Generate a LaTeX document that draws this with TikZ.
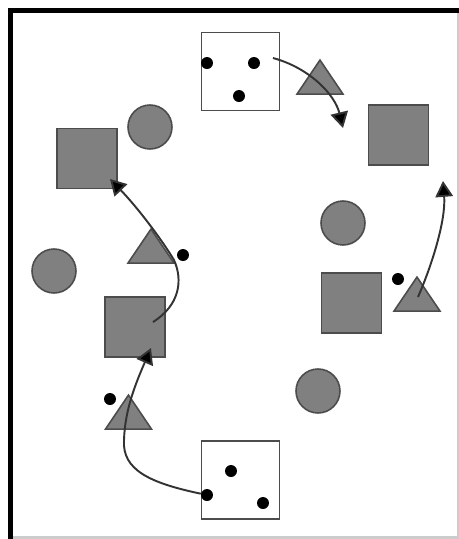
\documentclass[tikz,border=0pt]{standalone}
\usetikzlibrary{shapes.geometric,arrows.meta}
\definecolor{shade}{gray}{0.5}
\definecolor{rim}{gray}{0.3}

\begin{document}
\begin{tikzpicture}[x=0.02cm,y=-0.02cm,
    boxes/.style={draw=rim,line width=0.9pt,fill=white,minimum size=1.56cm,inner sep=0},
    greysq/.style={draw=rim,line width=0.9pt,fill=shade,minimum size=1.2cm,inner sep=0},
    greyball/.style={circle,draw=rim,line width=0.9pt,fill=shade,minimum size=0.88cm,inner sep=0},
    tri/.style={isosceles triangle,isosceles triangle stretches,shape border rotate=90,anchor=apex,
        draw=rim,line width=0.9pt,fill=shade,minimum width=0.92cm,minimum height=0.68cm,inner sep=0},
    dot/.style={circle,fill=black,minimum size=0.24cm,inner sep=0},
    arr/.style={line width=1.1pt,draw=black!80,-{Triangle[length=9pt,width=10pt,fill=black]}}]
        \useasboundingbox (0,0) rectangle (459,539);
        % frame
        \draw[black!20,line width=1.2pt] (12,537.5) -- (458,537.5) -- (458,12);
        \draw[black,line width=3pt] (10.5,539) -- (10.5,10.5) -- (459,10.5);
        % the two open boxes
        \node[boxes] (box1) at (240.5,71.5) {};
        \node[boxes] (box2) at (240.5,480) {};
        \node[dot] (b1d1) at (207,63) {};
        \node[dot] (b1d2) at (254,63) {};
        \node[dot] (b1d3) at (239,96) {};
        \node[dot] (b2d1) at (231,471) {};
        \node[dot] (b2d2) at (207,495) {};
        \node[dot] (b2d3) at (263,503) {};
        % squares
        \node[greysq] (sq1) at (398.5,135) {};
        \node[greysq] (sq2) at (87,158.5) {};
        \node[greysq] (sq3) at (135,327) {};
        \node[greysq] (sq4) at (351.5,303) {};
        % circles
        \node[greyball] (ball1) at (150,127) {};
        \node[greyball] (ball2) at (54,271) {};
        \node[greyball] (ball3) at (343,223) {};
        \node[greyball] (ball4) at (318,391) {};
        % triangles (placed by their apex) and their dots
        \node[tri] (tri1) at (320,58) {};
        \node[tri] (tri2) at (151,227) {};
        \node[tri] (tri3) at (128.5,393) {};
        \node[tri] (tri4) at (417,275) {};
        \node[dot] (d2) at (183,255) {};
        \node[dot] (d3) at (110,399) {};
        \node[dot] (d4) at (398,279) {};
        % arrow ends
        \coordinate (a1s) at (273,58);
        \coordinate (a1e) at (343,128);
        \coordinate (a2s) at (418,297);
        \coordinate (a2e) at (443,181);
        \coordinate (a3s) at (153,322);
        \coordinate (a3e) at (110,179);
        \coordinate (a4e) at (151,348);
        \draw[arr] (a1s) .. controls (310,68) and (335,95) .. (a1e);
        \draw[arr] (a2s) .. controls (432,265) and (446,220) .. (a2e);
        \draw[arr] (a3s) .. controls (180,305) and (183,280) .. (174,260)
            .. controls (162,240) and (138,208) .. (a3e);
        \draw[arr] (b2d2) .. controls (150,483) and (122,470) .. (124,440)
            .. controls (125,410) and (135,385) .. (a4e);
\end{tikzpicture}
\end{document}
